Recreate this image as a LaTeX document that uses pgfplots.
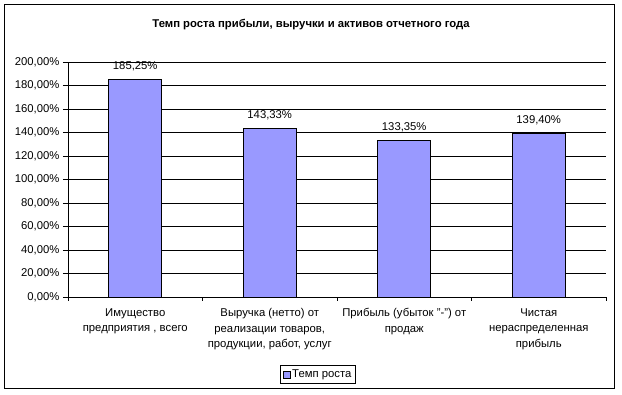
\documentclass[border=0pt]{standalone}
\usepackage{fontspec}
\setmainfont{Liberation Sans}
\usepackage{pgfplots}
\pgfplotsset{compat=1.18}
\definecolor{barblue}{HTML}{9999FF}
\begin{document}
\begin{tikzpicture}[x=1pt,y=1pt]
\path[use as bounding box] (0,0) rectangle (622,395);
\draw[line width=0.8pt] (4,7) rectangle (614,391);
\node[font=\fontsize{11.3}{13}\selectfont\bfseries] at (311,370) {Темп роста прибыли, выручки и активов отчетного года};
\begin{axis}[
  at={(68pt,98pt)}, anchor=south west,
  scale only axis, width=538pt, height=235pt,
  ybar, bar width=53pt,
  xmin=-0.5, xmax=3.5, ymin=0, ymax=200,
  axis x line*=bottom, axis y line*=left,
  axis line style={line width=0.8pt,-},
  xtick={0,1,2,3},
  major x tick style={draw=none},
  minor xtick={-0.5,0.5,1.5,2.5,3.5},
  minor x tick style={line width=0.8pt,black},
  minor tick length=4pt,
  xticklabels={{Имущество\\предприятия , всего},{Выручка (нетто) от\\реализации товаров,\\продукции, работ, услуг},{Прибыль (убыток "-") от\\продаж},{Чистая\\нераспределенная\\прибыль}},
  xticklabel style={align=center, font=\fontsize{11.3}{15.5}\selectfont, yshift=-3pt},
  ytick={0,20,...,200},
  yticklabels={{0,00\%},{20,00\%},{40,00\%},{60,00\%},{80,00\%},{100,00\%},{120,00\%},{140,00\%},{160,00\%},{180,00\%},{200,00\%}},
  yticklabel style={font=\fontsize{11.3}{13}\selectfont},
  tick align=outside, major tick length=5pt,
  major y tick style={line width=0.8pt,black},
  ymajorgrids, grid style={black,line width=0.8pt},
  tick label style={/pgf/number format/assume math mode=true},
  nodes near coords={\pgfmathprintnumber[fixed,fixed zerofill,precision=2,use comma,assume math mode=true]{\pgfplotspointmeta}\%},
  nodes near coords style={font=\fontsize{11.3}{13}\selectfont, yshift=4.5pt},
  legend style={at={(0.4647,-0.3298)}, anchor=center, draw=black, line width=0.8pt, font=\fontsize{11.3}{13}\selectfont, inner sep=2.5pt},
  legend image code/.code={\draw[#1,line width=0.6pt] (0pt,-3.5pt) rectangle (7pt,3.5pt);},
]
\addplot[fill=barblue, draw=black, line width=0.8pt] coordinates {(0,185.25) (1,143.33) (2,133.35) (3,139.40)};
\addlegendentry{Темп роста}
\end{axis}
\end{tikzpicture}
\end{document}
